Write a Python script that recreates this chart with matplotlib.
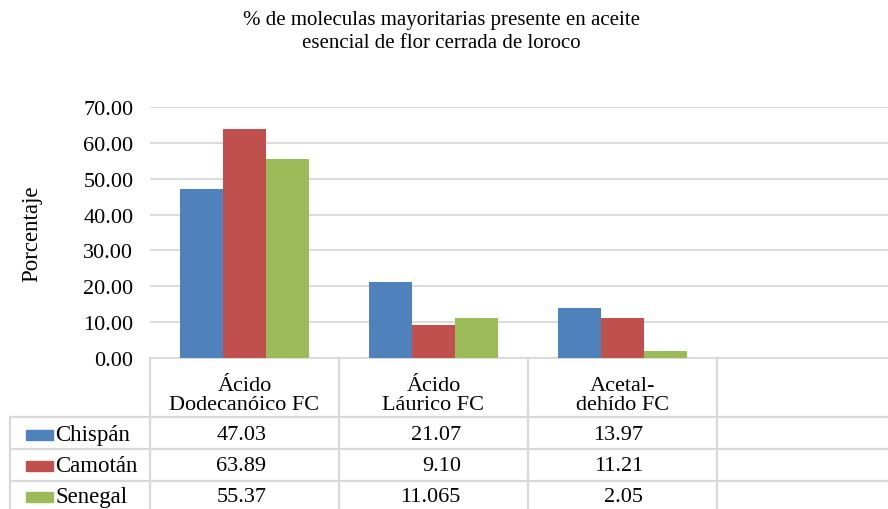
import numpy as np
import matplotlib
matplotlib.use("Agg")
import matplotlib.pyplot as plt
from matplotlib.transforms import blended_transform_factory

# datos
titulo = ["% de moleculas mayoritarias presente en aceite",
          "esencial de flor cerrada de loroco"]
categorias = ["Ácido\nDodecanóico FC", "Ácido\nLáurico FC", "Acetal-\ndehído FC"]
series = ["Chispán", "Camotán", "Senegal"]
chispan = [47.03, 21.07, 13.97]
camotan = [63.89, 9.10, 11.21]
senegal = [55.37, 11.065, 2.05]
etiquetas = [["47.03", "21.07", "13.97"],
             ["63.89", "9.10", "11.21"],
             ["55.37", "11.065", "2.05"]]
colores = ["#4F81BD", "#C0504D", "#9BBB59"]
yticks = [0, 10, 20, 30, 40, 50, 60, 70]

plt.rcParams['font.family'] = ['Liberation Serif']
fuente = dict(family='Liberation Serif')

W, H = 888, 510
fig = plt.figure(figsize=(W / 100, H / 100), dpi=100)

def fx(px):
    return px / W

def fy(py):
    return 1 - py / H

ax = fig.add_axes([fx(150), fy(359), fx(888) - fx(150), fy(108) - fy(359)])

x = np.arange(len(categorias))
ancho = 0.2275
valores = [chispan, camotan, senegal]
for i, (vals, c) in enumerate(zip(valores, colores)):
    ax.bar(x + (i - 1) * ancho, vals, ancho, color=c, zorder=3)

ax.set_xlim(-0.5, 3.405)
ax.set_ylim(0, 70)
ax.set_yticks(yticks)
ax.set_yticklabels([f"{v:.2f}" for v in yticks], fontsize=16, **fuente)
ax.tick_params(axis='y', length=0, pad=12)
ax.set_xticks([])
ax.grid(axis='y', color='#d9d9d9', linewidth=1.3, zorder=0)
for s in ['top', 'right', 'left']:
    ax.spines[s].set_visible(False)
ax.spines['bottom'].set_color('#d9d9d9')
ax.spines['bottom'].set_linewidth(1.3)

ax.set_ylabel("Porcentaje", fontsize=16.5, **fuente)
ax.yaxis.set_label_coords(-0.146, 0.5)

# titulo en dos lineas
for k, linea in enumerate(titulo):
    fig.text(0.497, fy(21 + 23 * k), linea, ha='center', va='center', fontsize=15, **fuente)

# tabla de datos
trans = blended_transform_factory(ax.transData, fig.transFigure)
gris = '#d9d9d9'
for xb in [-0.5, 0.5, 1.5, 2.5]:
    fig.add_artist(plt.Line2D([xb, xb], [fy(359), 0], transform=trans, color=gris, lw=1.6))
for yb in [418, 450, 482]:
    fig.add_artist(plt.Line2D([fx(10), 1], [fy(yb), fy(yb)], transform=fig.transFigure, color=gris, lw=1.6))
fig.add_artist(plt.Line2D([fx(10), fx(10)], [fy(418), 0], transform=fig.transFigure, color=gris, lw=1.6))

for i, cat in enumerate(categorias):
    fig.text(x[i], fy(396), cat, transform=trans, ha='center', va='center',
             fontsize=16, linespacing=1.0, **fuente)

desplaz = [0.115, 0.145, 0.108]
filas_y = [436, 467, 498]
for r, (nombre, c) in enumerate(zip(series, colores)):
    fig.add_artist(plt.Rectangle((fx(26), fy(filas_y[r]) - 5 / H), 27 / W, 10 / H,
                                 transform=fig.transFigure, color=c))
    fig.text(fx(55), fy(filas_y[r]), nombre, ha='left', va='center', fontsize=16.5, **fuente)
    for i in range(len(categorias)):
        fig.text(x[i] + desplaz[i], fy(filas_y[r]), etiquetas[r][i], transform=trans,
                 ha='right', va='center', fontsize=16, **fuente)

fig.savefig("out.png", dpi=100, facecolor='white')
